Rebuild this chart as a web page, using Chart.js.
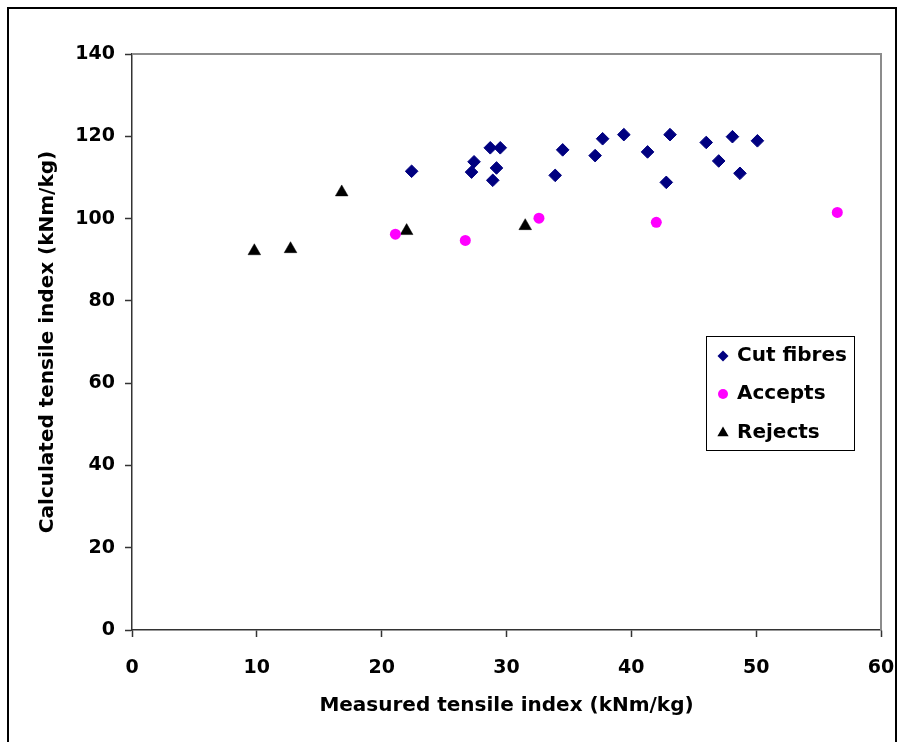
<!DOCTYPE html>
<html>
<head>
<meta charset="utf-8">
<script src="https://cdn.jsdelivr.net/npm/chart.js@4/dist/chart.umd.min.js"></script>
<style>
  html, body { margin: 0; padding: 0; background: #fff; }
  #wrap { width: 898px; height: 742px; }
</style>
</head>
<body>
<div id="wrap"><canvas id="c" width="898" height="742"></canvas></div>
<script>
// ---- data ----
const cutFibresX = [22.4, 27.4, 27.2, 28.7, 29.5, 29.2, 28.9, 33.9, 34.5, 37.1, 37.7, 39.4, 41.3, 42.8, 43.1, 46.0, 47.0, 48.1, 48.7, 50.1];
const cutFibresY = [111.5, 113.8, 111.3, 117.2, 117.2, 112.3, 109.3, 110.5, 116.7, 115.3, 119.4, 120.4, 116.2, 108.8, 120.4, 118.5, 114.0, 119.9, 111.0, 118.9];
const acceptsX = [21.1, 26.7, 32.6, 42.0, 56.5];
const acceptsY = [96.2, 94.7, 100.1, 99.1, 101.5];
const rejectsX = [9.8, 12.7, 16.8, 22.0, 31.5];
const rejectsY = [92.1, 92.6, 106.4, 97.0, 98.2];
const seriesLabels = ['Cut fibres', 'Accepts', 'Rejects'];
const xTitle = 'Measured tensile index (kNm/kg)';
const yTitle = 'Calculated tensile index (kNm/kg)';

const toPts = (xs, ys) => xs.map((x, i) => ({ x: x, y: ys[i] }));
const FONT = '"DejaVu Sans", Arial, sans-serif';

const framePlugin = {
  id: 'frame',
  beforeDraw(chart) {
    const ctx = chart.ctx;
    ctx.save();
    ctx.fillStyle = '#fff';
    ctx.fillRect(0, 0, chart.width, chart.height);
    ctx.strokeStyle = '#000';
    ctx.lineWidth = 2;
    ctx.beginPath();
    ctx.moveTo(8, 745);
    ctx.lineTo(8, 8);
    ctx.lineTo(896, 8);
    ctx.lineTo(896, 745);
    ctx.stroke();
    ctx.restore();
  },
  beforeDatasetsDraw(chart) {
    const a = chart.chartArea;
    const ctx = chart.ctx;
    ctx.save();
    ctx.strokeStyle = '#8c8c8c';
    ctx.lineWidth = 2;
    ctx.beginPath();
    ctx.moveTo(a.left, a.top);
    ctx.lineTo(a.right, a.top);
    ctx.lineTo(a.right, a.bottom);
    ctx.stroke();
    ctx.restore();
  },
  afterDraw(chart) {
    const ctx = chart.ctx;
    ctx.save();
    const bx = 706, by = 336, bw = 148, bh = 114;
    ctx.fillStyle = '#fff';
    ctx.fillRect(bx, by, bw, bh);
    ctx.strokeStyle = '#000';
    ctx.lineWidth = 1;
    ctx.strokeRect(bx + 0.5, by + 0.5, bw, bh);
    const ys = [356, 394, 433];
    chart.data.datasets.forEach((ds, i) => {
      const mx = 723, my = ys[i];
      ctx.fillStyle = ds.backgroundColor;
      ctx.beginPath();
      if (ds.pointStyle === 'rectRot') {
        const r = 5.5;
        ctx.moveTo(mx - r, my); ctx.lineTo(mx, my - r); ctx.lineTo(mx + r, my); ctx.lineTo(mx, my + r);
        ctx.closePath();
      } else if (ds.pointStyle === 'circle') {
        ctx.arc(mx, my, 5, 0, Math.PI * 2);
      } else {
        const r = 6.5;
        ctx.moveTo(mx, my - r);
        ctx.lineTo(mx + 0.866 * r, my + 0.5 * r);
        ctx.lineTo(mx - 0.866 * r, my + 0.5 * r);
        ctx.closePath();
      }
      ctx.fill();
      ctx.fillStyle = '#000';
      ctx.font = 'bold 20px ' + FONT;
      ctx.textBaseline = 'middle';
      ctx.textAlign = 'left';
      ctx.fillText(ds.label, 737, my);
    });
    ctx.restore();
  }
};

new Chart(document.getElementById('c'), {
  type: 'scatter',
  data: {
    datasets: [
      { label: seriesLabels[0], data: toPts(cutFibresX, cutFibresY), pointStyle: 'rectRot', pointRadius: 6.3,
        backgroundColor: '#000080', borderColor: '#000080', borderWidth: 1 },
      { label: seriesLabels[1], data: toPts(acceptsX, acceptsY), pointStyle: 'circle', pointRadius: 5.5,
        backgroundColor: '#FF00FF', borderColor: '#FF00FF', borderWidth: 0 },
      { label: seriesLabels[2], data: toPts(rejectsX, rejectsY), pointStyle: 'triangle', pointRadius: 7.3,
        backgroundColor: '#000000', borderColor: '#000000', borderWidth: 0.5 }
    ]
  },
  options: {
    responsive: false,
    animation: false,
    devicePixelRatio: 1,
    layout: { padding: { left: 0, top: 54, right: 17, bottom: 0 } },
    plugins: { legend: { display: false }, tooltip: { enabled: false } },
    scales: {
      x: {
        type: 'linear', min: 0, max: 60,
        afterFit(scale) { scale.height = 112; scale.paddingRight = 0; scale.paddingLeft = 0; },
        ticks: { stepSize: 10, autoSkip: false, maxRotation: 0, padding: 20, color: '#000',
                 font: { family: FONT, size: 19, weight: 'bold' } },
        grid: { display: true, drawOnChartArea: false, drawTicks: true, tickLength: 7, tickColor: '#333', tickWidth: 1.5 },
        border: { display: true, color: '#333', width: 1.5 },
        title: { display: true, text: xTitle, color: '#000', padding: { top: 0, bottom: 24 },
                 font: { family: FONT, size: 20, weight: 'bold' } }
      },
      y: {
        type: 'linear', min: 0, max: 140,
        afterFit(scale) { scale.width = 132; },
        ticks: { stepSize: 20, autoSkip: false, padding: 10, color: '#000',
                 font: { family: FONT, size: 19, weight: 'bold' } },
        grid: { display: true, drawOnChartArea: false, drawTicks: true, tickLength: 7, tickColor: '#333', tickWidth: 1.5 },
        border: { display: true, color: '#333', width: 1.5 },
        title: { display: true, text: yTitle, color: '#000', padding: { top: 36, bottom: 0 },
                 font: { family: FONT, size: 20, weight: 'bold' } }
      }
    }
  },
  plugins: [framePlugin]
});
</script>
</body>
</html>
